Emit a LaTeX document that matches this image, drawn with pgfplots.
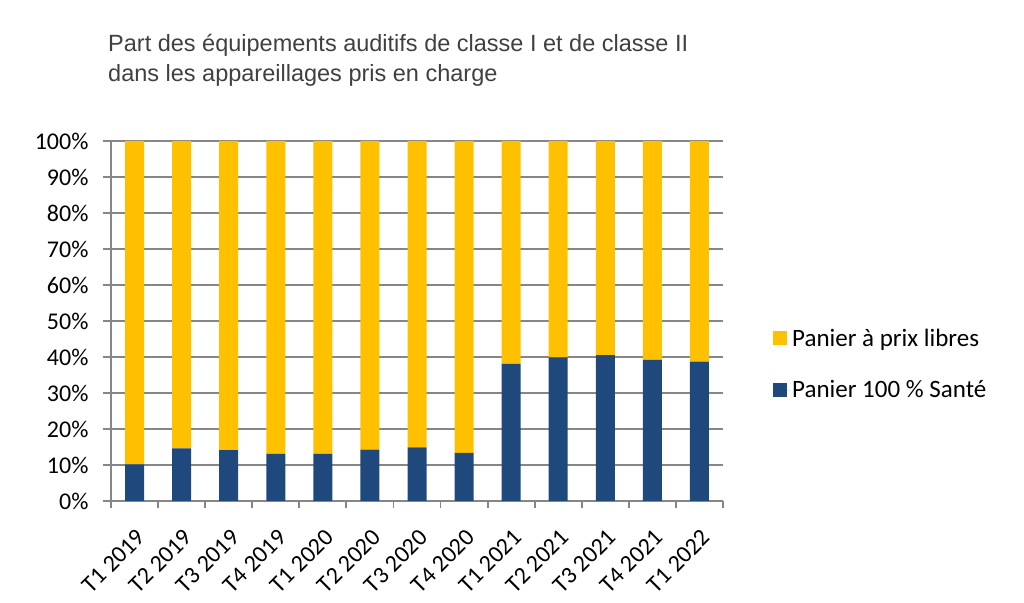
\documentclass[border=0pt]{standalone}
\usepackage{pgfplots}
\pgfplotsset{compat=1.18}
\usepackage{fontspec}
\setmainfont{Carlito}
\newfontfamily\titlefont{Liberation Sans}
\definecolor{cyellow}{RGB}{255,192,0}
\definecolor{cblue}{RGB}{31,73,125}
\definecolor{cgrid}{RGB}{134,134,134}
\definecolor{ctitle}{RGB}{64,64,64}
\begin{document}
\begin{tikzpicture}
\path[use as bounding box] (0,0) rectangle (1024bp,603bp);
\node[anchor=base west, font=\titlefont\fontsize{23.5bp}{27bp}\selectfont, text=ctitle, inner sep=0pt] at (108bp,551bp) {Part des équipements auditifs de classe I et de classe II};
\node[anchor=base west, font=\titlefont\fontsize{23.5bp}{27bp}\selectfont, text=ctitle, inner sep=0pt] at (108bp,521bp) {dans les appareillages pris en charge};
\begin{axis}[
  at={(111bp,102bp)}, anchor=south west, scale only axis,
  width=612bp, height=360bp,
  ymin=0, ymax=100, xmin=-0.5, xmax=12.5,
  ybar stacked, bar width=19bp,
  axis lines*=left, axis line style={cgrid, line width=1.8bp, -},
  ymajorgrids, grid style={cgrid, line width=1.8bp},
  ytick={0,10,...,100},
  yticklabel={\pgfmathprintnumber{\tick}\%},
  xtick={0,...,12},
  xticklabels={T1 2019,T2 2019,T3 2019,T4 2019,T1 2020,T2 2020,T3 2020,T4 2020,T1 2021,T2 2021,T3 2021,T4 2021,T1 2022},
  minor xtick={-0.5,0.5,...,12.5},
  every major x tick/.append style={draw=none},
  tick align=outside, tick style={cgrid, line width=1.8bp},
  major tick length=8bp, minor tick length=7bp,
  ticklabel style={font=\fontsize{24bp}{28bp}\selectfont},
  y tick label style={xshift=-11bp},
  x tick label style={xshift=9bp, yshift=-22bp, rotate=45, anchor=east},
  /pgf/number format/assume math mode=true,
  legend style={at={(rel axis cs:1.0817,0.38)}, anchor=west, draw=none, fill=none,
    font=\fontsize{25bp}{29bp}\selectfont, row sep=29bp, inner sep=0pt},
  legend cell align=left, reverse legend,
  legend image code/.code={\fill[#1] (0bp,-7bp) rectangle (14bp,7bp); \path (0bp,0bp) -- (17bp,0bp);},
]
\addplot[fill=cblue, draw=none] coordinates {(0,10.2) (1,14.6) (2,14.1) (3,13.1) (4,13.1) (5,14.3) (6,14.9) (7,13.4) (8,38.1) (9,39.9) (10,40.5) (11,39.2) (12,38.7)};
\addlegendentry{Panier 100 \% Santé}
\addplot[fill=cyellow, draw=none] coordinates {(0,89.8) (1,85.4) (2,85.9) (3,86.9) (4,86.9) (5,85.7) (6,85.1) (7,86.6) (8,61.9) (9,60.1) (10,59.5) (11,60.8) (12,61.3)};
\addlegendentry{Panier à prix libres}
\end{axis}
\end{tikzpicture}
\end{document}
